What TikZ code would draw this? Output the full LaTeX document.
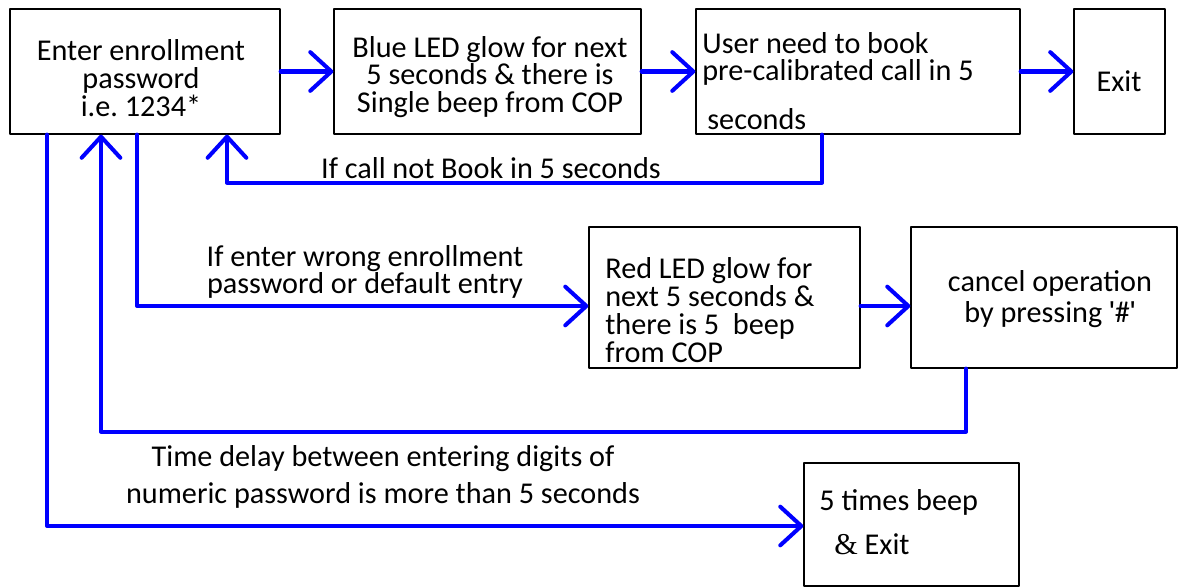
\documentclass[tikz,border=0pt]{standalone}
\usepackage{fontspec}
\setmainfont{Carlito}
\newfontfamily\quotefont{Liberation Sans}[Ligatures=ResetAll]
\usetikzlibrary{arrows.meta}
\frenchspacing
\begin{document}
\begin{tikzpicture}[x=0.02cm, y=-0.02cm, line cap=round, line join=round,
    box/.style={draw=black, line width=0.75pt, inner sep=0pt},
    txt/.style={inner sep=0pt, font=\fontsize{17.2}{15.8}\selectfont},
    flow/.style={draw=blue, line width=2.3pt, -{Straight Barb[length=12pt, width=22pt, round]}}]
    \useasboundingbox (0,0) rectangle (1179,587);

    % Boxes
    \node[box, minimum width=5.4cm, minimum height=2.5cm] (enter) at (145,71.5) {};
    \node[box, minimum width=6.14cm, minimum height=2.5cm] (blue) at (487.5,71.5) {};
    \node[box, minimum width=6.48cm, minimum height=2.5cm] (user) at (858,71.5) {};
    \node[box, minimum width=1.82cm, minimum height=2.5cm] (exit) at (1119.5,71.5) {};
    \node[box, minimum width=5.42cm, minimum height=2.82cm] (red) at (724.5,297.5) {};
    \node[box, minimum width=5.32cm, minimum height=2.82cm] (cancel) at (1044,297.5) {};
    \node[box, minimum width=4.3cm, minimum height=2.46cm] (beep) at (911.5,524.5) {};

    % Box texts
    \node[txt, align=center] (enter-txt) at (141,78) {Enter enrollment\\password\\i.e. 1234*};
    \node[txt, align=center] (blue-txt) at (490,77) {Blue LED glow for next\\5 seconds \& there is\\Single beep from COP};
    \node[txt, align=left, anchor=west] (user-txt) at (702,81) {User need to book\\pre-calibrated call in 5\\[12pt]\,seconds};
    \node[txt] (exit-txt) at (1119,81) {Exit};
    \node[txt, align=left, anchor=west] (red-txt) at (605,310) {Red LED glow for\\next 5 seconds \&\\there is 5~ beep\\from COP};
    \node[txt, align=center, font=\fontsize{17.2}{17.5}\selectfont] (cancel-txt) at (1050,299) {cancel operation\\by pressing {\quotefont\textquotesingle}\#{\quotefont\textquotesingle}};
    \node[txt, align=left, anchor=west] (beep-txt) at (819,522) {5 times beep\\[9pt]\hspace*{0.3cm}{\fontspec{Liberation Serif}\&} Exit};

    % Arrow labels
    \node[txt] (nobook-lbl) at (491,168) {If call not Book in 5 seconds};
    \node[txt, align=center] (wrong-lbl) at (365,272) {If enter wrong enrollment\\password or default entry};
    \node[txt, align=center] (delay-lbl) at (383,477) {Time delay between entering digits of\\[5pt]numeric password is more than 5 seconds};

    % Forward arrows
    \draw[flow] (enter.east) -- (blue.west);
    \draw[flow] (blue.east) -- (user.west);
    \draw[flow] (user.east) -- (exit.west);
    \draw[flow] ([yshift=-0.17cm]red.east) -- ([yshift=-0.17cm]cancel.west);

    % Branches from the password box
    \draw[flow] ([xshift=-0.16cm]enter.south) |- ([yshift=-0.17cm]red.west);
    \draw[flow] ([xshift=-1.96cm]enter.south) |- ([yshift=-0.03cm]beep.west);

    % Loops back to the password box
    \draw[flow] ([xshift=-0.72cm]user.south) -- ++(0,48) -| ([xshift=1.64cm]enter.south);
    \draw[flow] ([xshift=-1.56cm]cancel.south) -- ++(0,63) -| ([xshift=-0.88cm]enter.south);
\end{tikzpicture}
\end{document}
